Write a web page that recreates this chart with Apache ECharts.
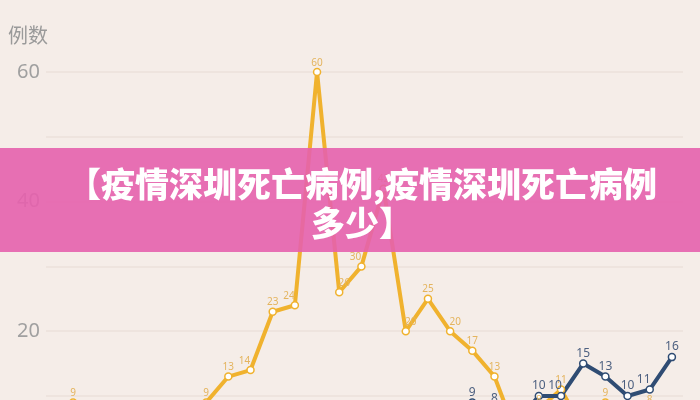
<!DOCTYPE html>
<html>
<head>
<meta charset="utf-8">
<script src="https://cdn.jsdelivr.net/npm/echarts@6/dist/echarts.min.js"></script>
<style>
html,body{margin:0;padding:0;background:#f5ede8;}
#main{width:700px;height:400px;}
</style>
</head>
<body>
<div id="main"></div>
<script>
// ---- data ----
var categories = ['1','2','3','4','5','6','7','8','9','10','11','12','13','14','15','16','17','18','19','20','21','22','23','24','25','26','27','28'];
var orangeValues = [9, 6, 5, 6, 5, 5, 9, 13, 14, 23, 24, 60, 26, 30, 42, 20, 25, 20, 17, 13, 4, 8, 11, 5, 9, 6, 8, 6];
var blueValues = ['-', '-', '-', '-', '-', '-', '-', '-', '-', '-', '-', '-', '-', '-', '-', '-', '-', '-', 9, 8, 6, 10, 10, 15, 13, 10, 11, 16];
var yTickLabels = [20, 40, 60];
var axisName = '例数';
var bannerLine1 = '【疫情深圳死亡病例,疫情深圳死亡病例';
var bannerLine2 = '多少】';

var chart = echarts.init(document.getElementById('main'), null, {renderer: 'canvas'});
var cjk = '"Noto Sans CJK SC", "Noto Sans", sans-serif';
var seriesValues = [orangeValues, blueValues];

function num(v) { return typeof v === 'number' ? v : null; }

// nudge a label sideways, away from the steeper neighbouring segment
function sideShift(params) {
  var vals = seriesValues[params.seriesIndex];
  var i = params.dataIndex;
  var v = num(vals[i]), p = num(vals[i - 1]), n = num(vals[i + 1]);
  var dx = 0;
  if (v !== null) {
    var rise = n !== null ? n - v : -Infinity;
    var drop = p !== null ? p - v : -Infinity;
    if (rise >= 5 && rise > drop) dx = -6;
    else if (drop >= 5) dx = 5;
  }
  return {dx: dx};
}

function lineSeries(name, data, color, labelColor, labelSize) {
  return {
    name: name,
    type: 'line',
    xAxisIndex: 1,
    yAxisIndex: 1,
    data: data,
    clip: false,
    symbol: 'circle',
    symbolSize: 7,
    showAllSymbol: true,
    lineStyle: {color: color, width: 4},
    itemStyle: {color: '#ffffff', borderColor: color, borderWidth: 1.5},
    label: {show: true, position: 'top', distance: 0, color: labelColor, fontSize: labelSize, fontFamily: 'Noto Sans, sans-serif'},
    labelLayout: sideShift,
    emphasis: {disabled: true},
    animation: false
  };
}

chart.setOption({
  backgroundColor: '#f5ede8',
  animation: false,
  grid: [
    {left: 46, right: 17, top: 72, height: 324, containLabel: false},
    {left: 62, right: 17, top: 72, height: 324, containLabel: false}
  ],
  xAxis: [
    {gridIndex: 0, type: 'value', min: 0, max: 1, show: false},
    {gridIndex: 1, type: 'category', data: categories, boundaryGap: true, show: false}
  ],
  yAxis: [
    {
      gridIndex: 0, type: 'value', min: 10, max: 60, interval: 10,
      name: axisName, nameLocation: 'end', nameGap: 27,
      nameTextStyle: {color: '#9a9a9a', fontSize: 20, fontFamily: cjk, align: 'right', padding: [0, -2, 0, 0]},
      axisLine: {show: false}, axisTick: {show: false},
      axisLabel: {
        color: '#a0a0a0', fontSize: 20, margin: 6, fontFamily: 'Noto Sans, sans-serif',
        formatter: function (v) { return yTickLabels.indexOf(v) >= 0 ? String(v) : ''; }
      },
      splitLine: {show: true, lineStyle: {color: '#ebe1db', width: 1.5}}
    },
    {gridIndex: 1, type: 'value', min: 10, max: 60, show: false, splitLine: {show: false}}
  ],
  series: [
    lineSeries('orange', orangeValues, '#f0b22e', '#e4b45e', 10),
    lineSeries('blue', blueValues, '#2f4c73', '#4d6080', 12)
  ],
  graphic: [
    {type: 'rect', z: 100, shape: {x: 0, y: 148, width: 700, height: 104}, style: {fill: 'rgba(229,97,173,0.9)'}},
    {type: 'text', z: 101, x: 362, y: 184, style: {text: bannerLine1, fill: '#ffffff', font: '900 34px ' + cjk, textAlign: 'center', textVerticalAlign: 'middle'}},
    {type: 'text', z: 101, x: 362, y: 223, style: {text: bannerLine2, fill: '#ffffff', font: '900 34px ' + cjk, textAlign: 'center', textVerticalAlign: 'middle'}}
  ]
});
</script>
</body>
</html>
